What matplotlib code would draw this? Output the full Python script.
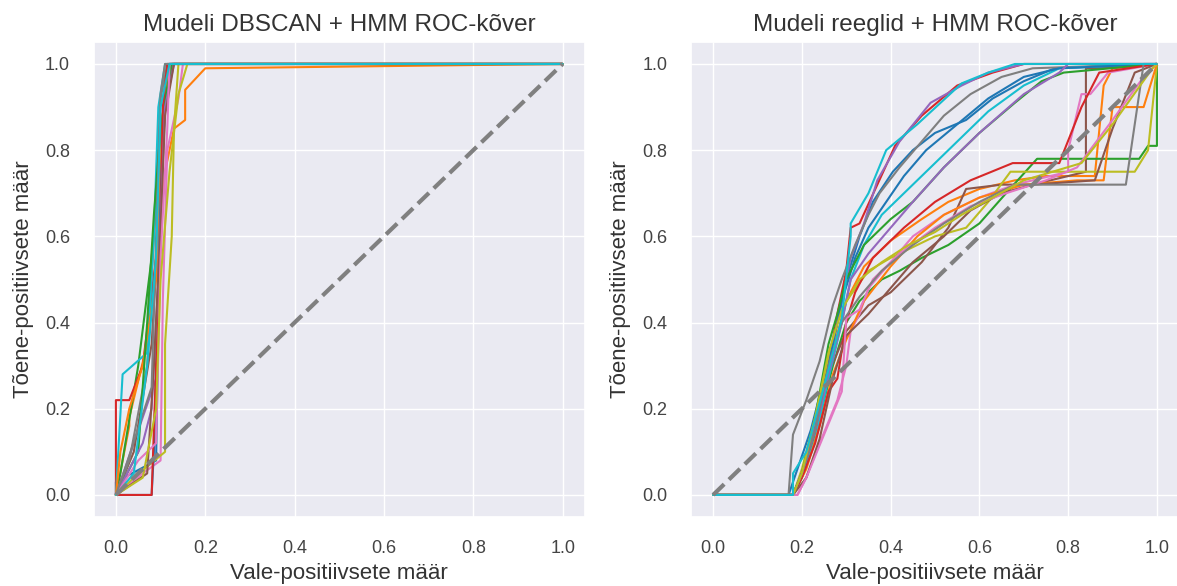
import matplotlib
matplotlib.use("Agg")
import matplotlib.pyplot as plt
import seaborn as sns

sns.set_theme()
plt.rcParams["font.family"] = ["Liberation Sans", "DejaVu Sans"]
plt.rcParams["axes.prop_cycle"] = plt.cycler(color=plt.get_cmap("tab10").colors)

# left panel: DBSCAN + HMM, 20 ROC curves (fpr, tpr)
dbscan_fpr = [
    [0, 0.0, 0.09, 0.095, 0.10, 0.11, 0.125, 1],
    [0, 0.03, 0.03, 0.07, 0.09, 0.11, 0.13, 0.155, 0.155, 0.2, 1],
    [0, 0.01, 0.05, 0.08, 0.10, 0.115, 0.13, 1],
    [0, 0.0, 0.03, 0.06, 0.09, 0.10, 0.11, 0.12, 1],
    [0, 0.05, 0.09, 0.095, 0.105, 0.12, 1],
    [0, 0.04, 0.08, 0.10, 0.11, 0.125, 1],
    [0, 0.06, 0.10, 0.105, 0.115, 0.14, 0.15, 1],
    [0, 0.03, 0.07, 0.09, 0.10, 0.115, 1],
    [0, 0.04, 0.11, 0.11, 0.125, 0.13, 0.14, 1],
    [0, 0.015, 0.07, 0.085, 0.095, 0.11, 1],
    [0, 0.08, 0.085, 0.095, 0.10, 0.115, 0.12, 1],
    [0, 0.01, 0.03, 0.06, 0.09, 0.10, 0.12, 1],
    [0, 0.05, 0.07, 0.085, 0.10, 0.11, 0.125, 1],
    [0, 0.08, 0.085, 0.10, 0.105, 0.115, 1],
    [0, 0.06, 0.08, 0.095, 0.11, 0.13, 1],
    [0, 0.07, 0.085, 0.10, 0.11, 0.13, 1],
    [0, 0.05, 0.09, 0.10, 0.115, 0.12, 1],
    [0, 0.02, 0.08, 0.09, 0.10, 0.11, 1],
    [0, 0.06, 0.09, 0.10, 0.12, 0.14, 0.16, 1],
    [0, 0.04, 0.07, 0.09, 0.10, 0.12, 1],
]
dbscan_tpr = [
    [0, 0.03, 0.08, 0.4, 0.7, 0.9, 1, 1],
    [0, 0.16, 0.18, 0.35, 0.55, 0.75, 0.85, 0.87, 0.94, 0.99, 1],
    [0, 0.05, 0.3, 0.55, 0.8, 0.95, 1, 1],
    [0, 0.22, 0.22, 0.3, 0.55, 0.8, 0.95, 1, 1],
    [0, 0.15, 0.27, 0.55, 0.85, 1, 1],
    [0, 0.1, 0.35, 0.7, 0.9, 1, 1],
    [0, 0.05, 0.08, 0.45, 0.8, 0.92, 1, 1],
    [0, 0.08, 0.3, 0.7, 0.92, 1, 1],
    [0, 0.04, 0.1, 0.35, 0.6, 0.85, 1, 1],
    [0, 0.28, 0.33, 0.6, 0.9, 1, 1],
    [0, 0.0, 0.1, 0.5, 0.85, 0.95, 1, 1],
    [0, 0.1, 0.2, 0.3, 0.5, 0.85, 1, 1],
    [0, 0.1, 0.4, 0.65, 0.85, 0.92, 1, 1],
    [0, 0.0, 0.15, 0.6, 0.9, 1, 1],
    [0, 0.12, 0.2, 0.5, 0.9, 1, 1],
    [0, 0.05, 0.3, 0.62, 0.88, 1, 1],
    [0, 0.08, 0.12, 0.55, 0.85, 1, 1],
    [0, 0.06, 0.25, 0.6, 0.93, 1, 1],
    [0, 0.04, 0.2, 0.5, 0.75, 0.93, 1, 1],
    [0, 0.05, 0.3, 0.55, 0.9, 1, 1],
]

# right panel: rules + HMM, 20 ROC curves
rules_fpr = [
    [0, 0.17, 0.19, 0.22, 0.25, 0.28, 0.3, 0.33, 0.36, 0.405, 0.45, 0.5, 0.57, 0.63, 0.7, 0.77, 1],
    [0, 0.18, 0.2, 0.23, 0.26, 0.3, 0.34, 0.4, 0.47, 0.53, 0.6, 0.68, 0.75, 0.86, 0.88, 0.9, 1],
    [0, 0.18, 0.2, 0.23, 0.27, 0.3, 0.33, 0.38, 0.42, 0.47, 0.53, 0.6, 0.66, 0.73, 0.96, 0.98, 1, 1],
    [0, 0.18, 0.2, 0.23, 0.26, 0.28, 0.3, 0.31, 0.33, 0.37, 0.41, 0.47, 0.55, 0.63, 0.7, 1],
    [0, 0.18, 0.2, 0.23, 0.26, 0.29, 0.31, 0.34, 0.37, 0.42, 0.49, 0.56, 0.62, 0.7, 1],
    [0, 0.18, 0.2, 0.23, 0.26, 0.3, 0.35, 0.4, 0.47, 0.53, 0.57, 0.65, 0.72, 0.84, 0.84, 0.86, 1],
    [0, 0.19, 0.21, 0.24, 0.28, 0.3, 0.31, 0.33, 0.35, 0.4, 0.45, 0.52, 0.6, 0.68, 0.8, 0.8, 0.83, 0.85, 0.89, 1],
    [0, 0.17, 0.18, 0.21, 0.24, 0.27, 0.29, 0.32, 0.35, 0.375, 0.42, 0.47, 0.52, 0.58, 0.65, 0.72, 1],
    [0, 0.18, 0.2, 0.23, 0.26, 0.28, 0.3, 0.35, 0.4, 0.44, 0.5, 0.57, 0.62, 0.67, 0.95, 0.98, 1],
    [0, 0.18, 0.2, 0.23, 0.26, 0.29, 0.31, 0.34, 0.38, 0.44, 0.5, 0.56, 0.62, 0.7, 0.78, 1],
    [0, 0.18, 0.2, 0.23, 0.26, 0.29, 0.32, 0.35, 0.39, 0.43, 0.48, 0.55, 0.62, 0.7, 0.78, 1],
    [0, 0.18, 0.21, 0.24, 0.27, 0.3, 0.34, 0.4, 0.46, 0.52, 0.6, 0.7, 0.82, 0.88, 0.9, 0.97, 1],
    [0, 0.18, 0.2, 0.23, 0.26, 0.28, 0.3, 0.34, 0.4, 0.45, 0.52, 0.6, 0.68, 0.74, 0.79, 1],
    [0, 0.18, 0.2, 0.23, 0.26, 0.28, 0.3, 0.32, 0.36, 0.43, 0.5, 0.58, 0.675, 0.78, 0.83, 0.87, 1],
    [0, 0.18, 0.2, 0.23, 0.26, 0.29, 0.31, 0.35, 0.4, 0.45, 0.52, 0.6, 0.7, 0.78, 0.8, 1],
    [0, 0.18, 0.21, 0.24, 0.27, 0.3, 0.35, 0.4, 0.45, 0.52, 0.58, 0.65, 0.72, 0.86, 0.9, 0.95, 1],
    [0, 0.19, 0.21, 0.25, 0.29, 0.3, 0.33, 0.36, 0.42, 0.5, 0.58, 0.66, 0.75, 0.82, 0.9, 0.97, 1],
    [0, 0.18, 0.2, 0.23, 0.26, 0.29, 0.33, 0.38, 0.45, 0.52, 0.6, 0.68, 0.93, 0.97, 1],
    [0, 0.18, 0.2, 0.23, 0.26, 0.29, 0.33, 0.38, 0.44, 0.5, 0.56, 0.63, 0.7, 0.83, 0.9, 0.99, 1],
    [0, 0.18, 0.18, 0.21, 0.26, 0.29, 0.31, 0.31, 0.35, 0.39, 0.46, 0.56, 0.62, 0.68, 1.0],
]
rules_tpr = [
    [0, 0, 0.06, 0.15, 0.27, 0.4, 0.5, 0.6, 0.68, 0.75, 0.8, 0.84, 0.87, 0.92, 0.96, 0.99, 1],
    [0, 0, 0.05, 0.15, 0.3, 0.45, 0.53, 0.59, 0.64, 0.68, 0.71, 0.73, 0.74, 0.74, 0.95, 0.99, 1],
    [0, 0, 0.04, 0.14, 0.3, 0.4, 0.45, 0.5, 0.52, 0.55, 0.58, 0.63, 0.7, 0.78, 0.78, 0.81, 0.81, 1],
    [0, 0, 0.05, 0.15, 0.3, 0.42, 0.52, 0.62, 0.63, 0.72, 0.81, 0.88, 0.95, 0.98, 1, 1],
    [0, 0, 0.05, 0.16, 0.3, 0.45, 0.55, 0.63, 0.73, 0.82, 0.91, 0.95, 0.98, 1, 1],
    [0, 0, 0.05, 0.14, 0.28, 0.38, 0.44, 0.47, 0.54, 0.62, 0.71, 0.72, 0.72, 0.75, 0.99, 0.99, 1],
    [0, 0, 0.04, 0.12, 0.22, 0.3, 0.38, 0.42, 0.48, 0.54, 0.6, 0.65, 0.69, 0.72, 0.75, 0.8, 0.93, 0.93, 0.98, 1],
    [0, 0, 0.14, 0.22, 0.31, 0.44, 0.5, 0.58, 0.65, 0.7, 0.76, 0.82, 0.88, 0.93, 0.97, 0.99, 1],
    [0, 0, 0.06, 0.18, 0.32, 0.4, 0.45, 0.52, 0.55, 0.57, 0.6, 0.62, 0.68, 0.75, 0.75, 0.8, 1],
    [0, 0, 0.04, 0.13, 0.27, 0.4, 0.5, 0.58, 0.65, 0.71, 0.77, 0.83, 0.89, 0.95, 0.99, 1],
    [0, 0, 0.05, 0.15, 0.3, 0.45, 0.55, 0.62, 0.68, 0.74, 0.8, 0.86, 0.92, 0.97, 0.99, 1],
    [0, 0, 0.06, 0.16, 0.28, 0.36, 0.45, 0.53, 0.6, 0.65, 0.69, 0.72, 0.73, 0.73, 0.9, 0.9, 1],
    [0, 0, 0.05, 0.18, 0.35, 0.42, 0.5, 0.58, 0.64, 0.68, 0.76, 0.84, 0.91, 0.96, 0.98, 1],
    [0, 0, 0.04, 0.12, 0.24, 0.27, 0.4, 0.47, 0.55, 0.62, 0.68, 0.73, 0.77, 0.77, 0.9, 0.98, 1],
    [0, 0, 0.05, 0.15, 0.28, 0.4, 0.5, 0.56, 0.62, 0.68, 0.76, 0.84, 0.93, 0.98, 1, 1],
    [0, 0, 0.04, 0.13, 0.27, 0.37, 0.42, 0.48, 0.54, 0.6, 0.66, 0.7, 0.72, 0.73, 0.85, 0.98, 1],
    [0, 0, 0.04, 0.14, 0.24, 0.41, 0.43, 0.5, 0.56, 0.62, 0.67, 0.7, 0.73, 0.76, 0.87, 0.97, 1],
    [0, 0, 0.05, 0.15, 0.3, 0.4, 0.46, 0.52, 0.58, 0.63, 0.68, 0.72, 0.72, 1, 1],
    [0, 0, 0.05, 0.18, 0.33, 0.43, 0.5, 0.54, 0.58, 0.61, 0.65, 0.69, 0.73, 0.77, 0.86, 0.99, 1],
    [0, 0, 0.05, 0.1, 0.29, 0.41, 0.6, 0.63, 0.7, 0.8, 0.86, 0.955, 0.98, 1.0, 1.0],
]

titles = ["Mudeli DBSCAN + HMM ROC-kõver", "Mudeli reeglid + HMM ROC-kõver"]
xlabel = "Vale-positiivsete määr"
ylabel = "Tõene-positiivsete määr"


def plot_roc(ax, fprs, tprs, title):
    for fpr, tpr in zip(fprs, tprs):
        ax.plot(fpr, tpr, linewidth=1.5)
    ax.plot([0, 1], [0, 1], linestyle="--", color="gray", linewidth=3)
    ax.set_xlim(-0.05, 1.05)
    ax.set_ylim(-0.05, 1.05)
    ax.set_xticks([0, 0.2, 0.4, 0.6, 0.8, 1.0])
    ax.set_yticks([0, 0.2, 0.4, 0.6, 0.8, 1.0])
    ax.tick_params(labelsize=13, pad=11, labelcolor="#444444")
    ax.set_xlabel(xlabel, fontsize=16, labelpad=4)
    ax.set_ylabel(ylabel, fontsize=16, labelpad=8)
    ax.set_title(title, fontsize=17.5, pad=8, color="#333333")
    ax.xaxis.label.set_color("#333333")
    ax.yaxis.label.set_color("#333333")


def main():
    fig = plt.figure(figsize=(11.77, 5.86), dpi=100)
    ax1 = fig.add_axes([0.0795, 0.1186, 0.4175, 0.809])
    ax2 = fig.add_axes([0.587, 0.1186, 0.4148, 0.809])
    plot_roc(ax1, dbscan_fpr, dbscan_tpr, titles[0])
    plot_roc(ax2, rules_fpr, rules_tpr, titles[1])
    fig.savefig("out.png", dpi=100)


if __name__ == "__main__":
    main()
